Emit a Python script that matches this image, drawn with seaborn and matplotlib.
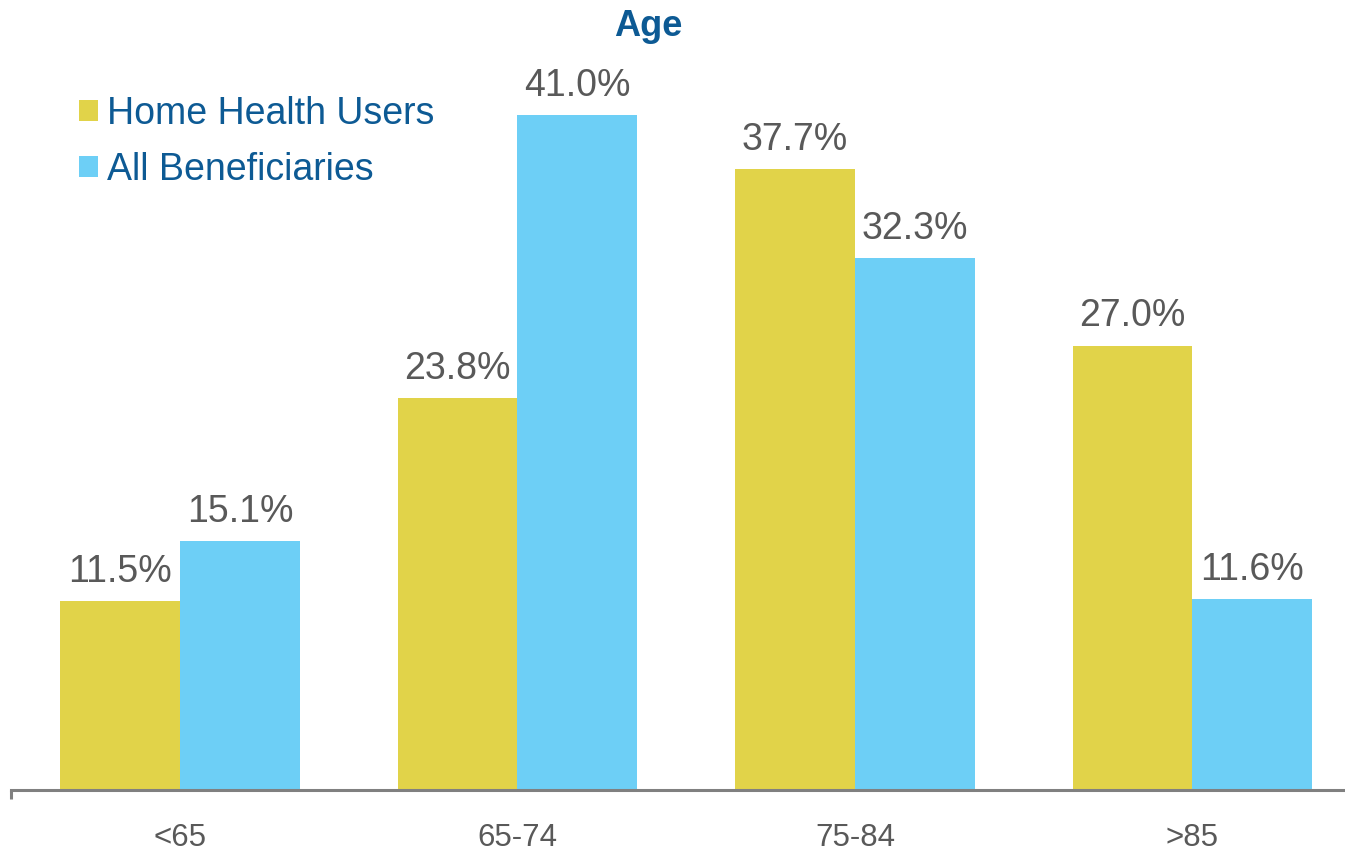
import matplotlib
matplotlib.use("Agg")
import matplotlib.pyplot as plt
import seaborn as sns
import pandas as pd

# Age distribution (% of group)
age_groups = ["<65", "65-74", "75-84", ">85"]
home_health_users = [11.5, 23.8, 37.7, 27.0]
all_beneficiaries = [15.1, 41.0, 32.3, 11.6]
series_names = ["Home Health Users", "All Beneficiaries"]

df = pd.DataFrame({
    "age": age_groups * 2,
    "share": home_health_users + all_beneficiaries,
    "series": [series_names[0]] * 4 + [series_names[1]] * 4,
})

sns.set_theme(style="white")
plt.rcParams["font.family"] = ["Liberation Sans", "DejaVu Sans"]

YELLOW = "#E1D349"
BLUE = "#6DCFF6"
TEXT_BLUE = "#0D5A94"
GRAY_TEXT = "#595959"

fig = plt.figure(figsize=(13.45, 8.52), dpi=100)
ax = fig.add_axes([11.25 / 1345, 62 / 852, 1350 / 1345, 740.7 / 852])

sns.barplot(data=df, x="age", y="share", hue="series", order=age_groups,
            hue_order=series_names, palette=[YELLOW, BLUE], width=0.711,
            gap=0, saturation=1, edgecolor="none", linewidth=0, ax=ax)

ax.set_xlim(-0.5, 3.5)
ax.set_ylim(0, 45)
ax.set_xlabel("")
ax.set_ylabel("")
ax.set_yticks([])

for side in ["top", "right", "left"]:
    ax.spines[side].set_visible(False)
ax.spines["bottom"].set_color("#808080")
ax.spines["bottom"].set_linewidth(2.2)

ax.set_xticks(range(len(age_groups)), age_groups)
ax.tick_params(axis="x", which="major", bottom=True, length=0, pad=24,
               labelsize=22.5, labelcolor=GRAY_TEXT)
ax.set_xticks([-0.5], minor=True)
ax.tick_params(axis="x", which="minor", bottom=True, length=6.5, width=2.2,
               color="#808080", direction="out")

for container in ax.containers:
    ax.bar_label(container, labels=[f"{v:.1f}%" for v in container.datavalues],
                 padding=8, fontsize=27, color=GRAY_TEXT)

handles, labels = ax.get_legend_handles_labels()
ax.legend(handles, labels, loc="upper left", bbox_to_anchor=(64 / 1345, 1 - 81 / 852),
          bbox_transform=fig.transFigure, frameon=False, fontsize=27,
          handlelength=0.5, handleheight=0.5, handletextpad=0.25,
          labelspacing=0.52, borderaxespad=0, labelcolor=TEXT_BLUE)

fig.text(648 / 1345, 1 - 27 / 852, "Age", ha="center", va="center",
         fontsize=26, fontweight="bold", color=TEXT_BLUE)

fig.savefig("out.png", dpi=100)
